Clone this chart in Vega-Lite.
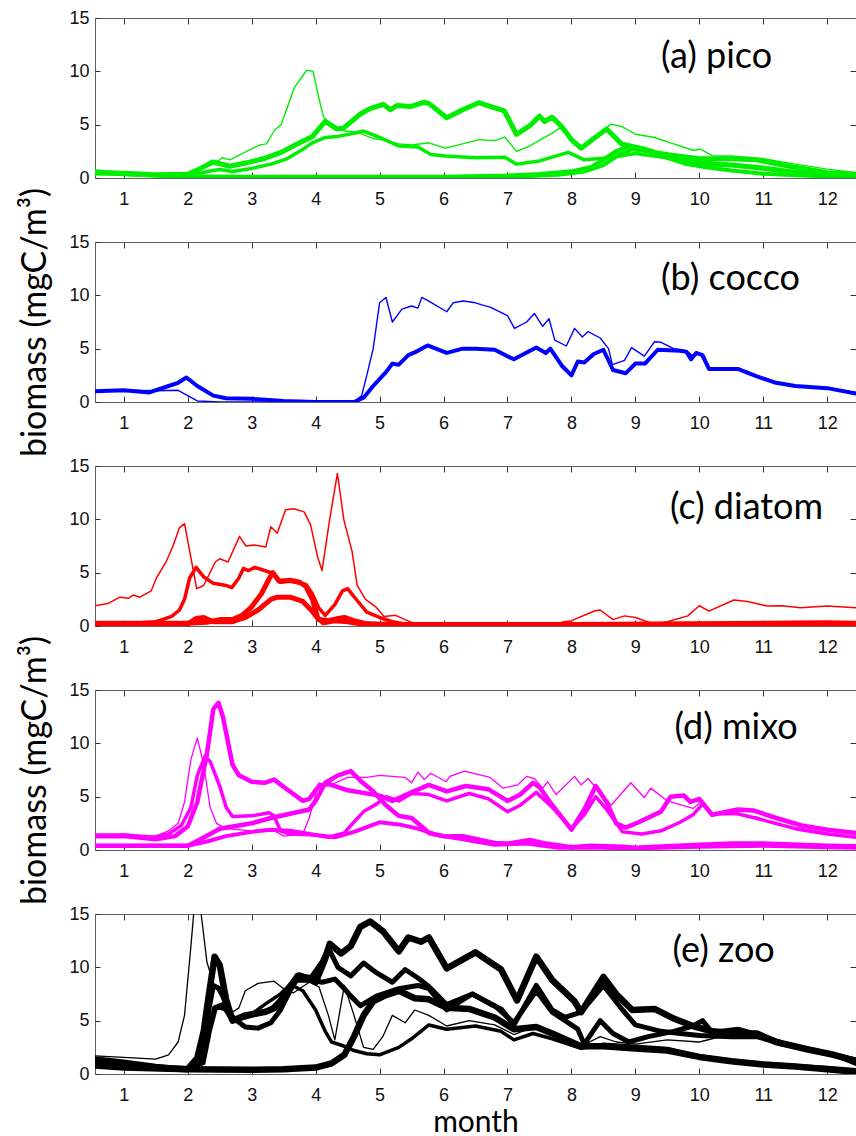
{
"$schema":"https://vega.github.io/schema/vega-lite/v6.json",
"padding":{"left":18,"top":8,"right":0,"bottom":0},
"background":"white",
"config":{"view":{"stroke":"#606060","strokeWidth":1},"axis":{"grid":false,"domain":false,"labelFont":"Liberation Sans","labelFontSize":18,"labelColor":"#111111","tickColor":"#333333","tickWidth":1,"labelFlush":false,"labelOverlap":false,"titleFont":"Lato","titleFontWeight":"normal","titleColor":"#000000"}},
"datasets":{
"pico":[
{"s":"a1","m":0.55,"v":0.3},{"s":"a1","m":1,"v":0.3},{"s":"a1","m":1.5,"v":0.2},{"s":"a1","m":2,"v":0.3},{"s":"a1","m":2.2,"v":0.8},{"s":"a1","m":2.4,"v":1.3},{"s":"a1","m":2.54,"v":1.9},{"s":"a1","m":2.66,"v":1.7},{"s":"a1","m":2.92,"v":2.5},{"s":"a1","m":3.13,"v":3.1},{"s":"a1","m":3.23,"v":3.2},{"s":"a1","m":3.36,"v":4.5},{"s":"a1","m":3.46,"v":5.0},{"s":"a1","m":3.67,"v":8.5},{"s":"a1","m":3.86,"v":10.1},{"s":"a1","m":3.96,"v":10.0},{"s":"a1","m":4.05,"v":7.5},{"s":"a1","m":4.12,"v":5.8},{"s":"a1","m":4.25,"v":4.8},{"s":"a1","m":4.45,"v":4.4},{"s":"a1","m":4.65,"v":4.3},{"s":"a1","m":4.9,"v":3.7},{"s":"a1","m":5.1,"v":3.5},{"s":"a1","m":5.3,"v":3.2},{"s":"a1","m":5.5,"v":3.1},{"s":"a1","m":5.77,"v":3.3},{"s":"a1","m":6.03,"v":2.8},{"s":"a1","m":6.3,"v":3.2},{"s":"a1","m":6.55,"v":3.6},{"s":"a1","m":6.8,"v":3.5},{"s":"a1","m":6.96,"v":3.84},{"s":"a1","m":7.14,"v":2.5},{"s":"a1","m":7.35,"v":3.0},{"s":"a1","m":7.53,"v":3.65},{"s":"a1","m":7.7,"v":4.2},{"s":"a1","m":7.82,"v":4.7},{"s":"a1","m":7.95,"v":4.0},{"s":"a1","m":8.15,"v":2.84},{"s":"a1","m":8.4,"v":4.0},{"s":"a1","m":8.62,"v":5.05},{"s":"a1","m":8.8,"v":4.8},{"s":"a1","m":9.0,"v":4.1},{"s":"a1","m":9.3,"v":3.8},{"s":"a1","m":9.6,"v":3.2},{"s":"a1","m":9.9,"v":2.6},{"s":"a1","m":10.02,"v":2.7},{"s":"a1","m":10.2,"v":2.1},{"s":"a1","m":10.5,"v":2.06},{"s":"a1","m":11,"v":1.8},{"s":"a1","m":11.5,"v":1.3},{"s":"a1","m":12,"v":0.83},{"s":"a1","m":12.45,"v":0.5},
{"s":"a2","m":0.55,"v":0.5},{"s":"a2","m":1,"v":0.45},{"s":"a2","m":1.5,"v":0.3},{"s":"a2","m":2.0,"v":0.35},{"s":"a2","m":2.2,"v":0.9},{"s":"a2","m":2.39,"v":1.5},{"s":"a2","m":2.66,"v":1.1},{"s":"a2","m":2.9,"v":1.4},{"s":"a2","m":3.18,"v":1.8},{"s":"a2","m":3.46,"v":2.4},{"s":"a2","m":3.75,"v":3.3},{"s":"a2","m":3.95,"v":3.9},{"s":"a2","m":4.15,"v":5.3},{"s":"a2","m":4.33,"v":4.6},{"s":"a2","m":4.44,"v":4.7},{"s":"a2","m":4.7,"v":6.0},{"s":"a2","m":4.85,"v":6.5},{"s":"a2","m":5.06,"v":6.9},{"s":"a2","m":5.17,"v":6.4},{"s":"a2","m":5.27,"v":6.8},{"s":"a2","m":5.48,"v":6.7},{"s":"a2","m":5.69,"v":7.1},{"s":"a2","m":5.77,"v":7.0},{"s":"a2","m":6.05,"v":5.65},{"s":"a2","m":6.3,"v":6.4},{"s":"a2","m":6.55,"v":7.06},{"s":"a2","m":6.95,"v":6.3},{"s":"a2","m":7.14,"v":4.1},{"s":"a2","m":7.35,"v":4.9},{"s":"a2","m":7.5,"v":5.8},{"s":"a2","m":7.58,"v":5.3},{"s":"a2","m":7.7,"v":5.7},{"s":"a2","m":7.85,"v":4.8},{"s":"a2","m":8.0,"v":3.6},{"s":"a2","m":8.15,"v":2.8},{"s":"a2","m":8.35,"v":3.7},{"s":"a2","m":8.55,"v":4.6},{"s":"a2","m":8.78,"v":3.2},{"s":"a2","m":9.0,"v":2.9},{"s":"a2","m":9.3,"v":2.4},{"s":"a2","m":9.6,"v":2.1},{"s":"a2","m":10.0,"v":1.8},{"s":"a2","m":10.5,"v":1.8},{"s":"a2","m":10.9,"v":1.7},{"s":"a2","m":11.5,"v":1.0},{"s":"a2","m":12,"v":0.5},{"s":"a2","m":12.45,"v":0.35},
{"s":"a3","m":0.55,"v":0.5},{"s":"a3","m":1,"v":0.4},{"s":"a3","m":1.5,"v":0.25},{"s":"a3","m":2,"v":0.2},{"s":"a3","m":2.3,"v":0.6},{"s":"a3","m":2.5,"v":0.8},{"s":"a3","m":2.7,"v":0.6},{"s":"a3","m":3.0,"v":0.9},{"s":"a3","m":3.3,"v":1.3},{"s":"a3","m":3.55,"v":1.8},{"s":"a3","m":3.75,"v":2.5},{"s":"a3","m":3.95,"v":3.3},{"s":"a3","m":4.15,"v":3.8},{"s":"a3","m":4.35,"v":3.9},{"s":"a3","m":4.6,"v":4.2},{"s":"a3","m":4.75,"v":4.4},{"s":"a3","m":5.0,"v":3.8},{"s":"a3","m":5.3,"v":3.0},{"s":"a3","m":5.6,"v":2.9},{"s":"a3","m":5.8,"v":2.2},{"s":"a3","m":6.03,"v":2.06},{"s":"a3","m":6.5,"v":1.9},{"s":"a3","m":6.96,"v":1.95},{"s":"a3","m":7.14,"v":1.3},{"s":"a3","m":7.5,"v":1.6},{"s":"a3","m":7.95,"v":2.4},{"s":"a3","m":8.2,"v":1.7},{"s":"a3","m":8.6,"v":1.9},{"s":"a3","m":9.0,"v":2.3},{"s":"a3","m":9.5,"v":1.9},{"s":"a3","m":10.0,"v":1.5},{"s":"a3","m":10.5,"v":1.3},{"s":"a3","m":11,"v":1.0},{"s":"a3","m":11.5,"v":0.6},{"s":"a3","m":12,"v":0.35},{"s":"a3","m":12.45,"v":0.3},
{"s":"a4","m":0.55,"v":0.6},{"s":"a4","m":1,"v":0.4},{"s":"a4","m":1.5,"v":0.25},{"s":"a4","m":2,"v":0.15},{"s":"a4","m":3,"v":0.1},{"s":"a4","m":4,"v":0.1},{"s":"a4","m":5,"v":0.1},{"s":"a4","m":6,"v":0.1},{"s":"a4","m":7,"v":0.2},{"s":"a4","m":7.5,"v":0.35},{"s":"a4","m":8.0,"v":0.6},{"s":"a4","m":8.3,"v":1.0},{"s":"a4","m":8.5,"v":1.7},{"s":"a4","m":8.7,"v":2.5},{"s":"a4","m":8.9,"v":3.0},{"s":"a4","m":9.1,"v":2.8},{"s":"a4","m":9.4,"v":2.2},{"s":"a4","m":9.7,"v":1.7},{"s":"a4","m":10.0,"v":1.3},{"s":"a4","m":10.5,"v":1.2},{"s":"a4","m":11.0,"v":0.9},{"s":"a4","m":11.5,"v":0.5},{"s":"a4","m":12,"v":0.3},{"s":"a4","m":12.45,"v":0.25},
{"s":"a5","m":0.55,"v":0.5},{"s":"a5","m":1,"v":0.35},{"s":"a5","m":2,"v":0.1},{"s":"a5","m":4,"v":0.05},{"s":"a5","m":6,"v":0.05},{"s":"a5","m":7,"v":0.1},{"s":"a5","m":7.8,"v":0.3},{"s":"a5","m":8.2,"v":0.6},{"s":"a5","m":8.5,"v":1.2},{"s":"a5","m":8.75,"v":2.2},{"s":"a5","m":8.95,"v":2.7},{"s":"a5","m":9.2,"v":2.5},{"s":"a5","m":9.5,"v":1.9},{"s":"a5","m":9.8,"v":1.3},{"s":"a5","m":10.1,"v":1.0},{"s":"a5","m":10.5,"v":0.7},{"s":"a5","m":11,"v":0.4},{"s":"a5","m":11.5,"v":0.25},{"s":"a5","m":12,"v":0.15},{"s":"a5","m":12.45,"v":0.1}
],
"cocco":[
{"s":"b1","m":0.55,"v":1.0},{"s":"b1","m":1.0,"v":1.1},{"s":"b1","m":1.5,"v":1.05},{"s":"b1","m":1.85,"v":1.1},{"s":"b1","m":2.0,"v":0.6},{"s":"b1","m":2.15,"v":0.1},{"s":"b1","m":2.5,"v":0.0},{"s":"b1","m":4.6,"v":0.0},{"s":"b1","m":4.72,"v":0.6},{"s":"b1","m":4.8,"v":2.5},{"s":"b1","m":4.9,"v":5.0},{"s":"b1","m":5.0,"v":9.3},{"s":"b1","m":5.1,"v":9.8},{"s":"b1","m":5.2,"v":7.5},{"s":"b1","m":5.35,"v":8.7},{"s":"b1","m":5.5,"v":9.0},{"s":"b1","m":5.6,"v":8.8},{"s":"b1","m":5.66,"v":9.8},{"s":"b1","m":5.77,"v":9.45},{"s":"b1","m":6.05,"v":8.46},{"s":"b1","m":6.15,"v":9.3},{"s":"b1","m":6.31,"v":9.47},{"s":"b1","m":6.5,"v":9.3},{"s":"b1","m":6.6,"v":9.1},{"s":"b1","m":6.73,"v":8.9},{"s":"b1","m":7.0,"v":8.1},{"s":"b1","m":7.11,"v":6.9},{"s":"b1","m":7.3,"v":7.5},{"s":"b1","m":7.42,"v":8.3},{"s":"b1","m":7.55,"v":7.1},{"s":"b1","m":7.65,"v":7.8},{"s":"b1","m":7.74,"v":5.8},{"s":"b1","m":7.92,"v":5.25},{"s":"b1","m":8.05,"v":6.9},{"s":"b1","m":8.17,"v":6.1},{"s":"b1","m":8.26,"v":6.6},{"s":"b1","m":8.45,"v":6.0},{"s":"b1","m":8.58,"v":5.0},{"s":"b1","m":8.64,"v":3.5},{"s":"b1","m":8.83,"v":3.9},{"s":"b1","m":8.94,"v":5.1},{"s":"b1","m":9.14,"v":4.3},{"s":"b1","m":9.3,"v":5.65},{"s":"b1","m":9.4,"v":5.6},{"s":"b1","m":9.6,"v":5.0},{"s":"b1","m":9.8,"v":4.8},{"s":"b1","m":9.9,"v":4.3},{"s":"b1","m":10.0,"v":4.6},{"s":"b1","m":10.15,"v":3.1},{"s":"b1","m":10.6,"v":3.1},{"s":"b1","m":10.9,"v":2.4},{"s":"b1","m":11.2,"v":1.8},{"s":"b1","m":11.5,"v":1.5},{"s":"b1","m":12.0,"v":1.3},{"s":"b1","m":12.45,"v":0.9},
{"s":"b2","m":0.55,"v":1.0},{"s":"b2","m":1,"v":1.1},{"s":"b2","m":1.4,"v":0.9},{"s":"b2","m":1.7,"v":1.5},{"s":"b2","m":1.85,"v":1.8},{"s":"b2","m":1.98,"v":2.3},{"s":"b2","m":2.15,"v":1.5},{"s":"b2","m":2.4,"v":0.6},{"s":"b2","m":2.6,"v":0.35},{"s":"b2","m":3,"v":0.3},{"s":"b2","m":3.5,"v":0.1},{"s":"b2","m":4,"v":0.0},{"s":"b2","m":4.6,"v":0.0},{"s":"b2","m":4.75,"v":0.4},{"s":"b2","m":4.9,"v":1.5},{"s":"b2","m":5.1,"v":2.8},{"s":"b2","m":5.2,"v":3.6},{"s":"b2","m":5.3,"v":3.5},{"s":"b2","m":5.45,"v":4.4},{"s":"b2","m":5.6,"v":4.8},{"s":"b2","m":5.75,"v":5.3},{"s":"b2","m":6.05,"v":4.6},{"s":"b2","m":6.3,"v":5.0},{"s":"b2","m":6.5,"v":5.0},{"s":"b2","m":6.8,"v":4.9},{"s":"b2","m":7.1,"v":4.0},{"s":"b2","m":7.45,"v":5.1},{"s":"b2","m":7.6,"v":4.6},{"s":"b2","m":7.67,"v":5.0},{"s":"b2","m":7.85,"v":3.4},{"s":"b2","m":8.0,"v":2.5},{"s":"b2","m":8.1,"v":3.8},{"s":"b2","m":8.2,"v":3.7},{"s":"b2","m":8.35,"v":4.5},{"s":"b2","m":8.5,"v":4.9},{"s":"b2","m":8.65,"v":3.0},{"s":"b2","m":8.85,"v":2.7},{"s":"b2","m":9.0,"v":3.6},{"s":"b2","m":9.15,"v":3.6},{"s":"b2","m":9.35,"v":4.9},{"s":"b2","m":9.7,"v":4.8},{"s":"b2","m":9.8,"v":4.7},{"s":"b2","m":9.87,"v":4.0},{"s":"b2","m":9.95,"v":4.6},{"s":"b2","m":10.05,"v":4.4},{"s":"b2","m":10.15,"v":3.1},{"s":"b2","m":10.6,"v":3.1},{"s":"b2","m":10.9,"v":2.4},{"s":"b2","m":11.2,"v":1.8},{"s":"b2","m":11.5,"v":1.5},{"s":"b2","m":12,"v":1.3},{"s":"b2","m":12.45,"v":0.8}
],
"diatom":[
{"s":"c1","m":0.55,"v":1.9},{"s":"c1","m":0.75,"v":2.1},{"s":"c1","m":0.94,"v":2.7},{"s":"c1","m":1.07,"v":2.6},{"s":"c1","m":1.15,"v":2.9},{"s":"c1","m":1.25,"v":2.7},{"s":"c1","m":1.43,"v":3.3},{"s":"c1","m":1.51,"v":4.5},{"s":"c1","m":1.61,"v":5.5},{"s":"c1","m":1.66,"v":6.0},{"s":"c1","m":1.77,"v":7.5},{"s":"c1","m":1.87,"v":9.2},{"s":"c1","m":1.95,"v":9.6},{"s":"c1","m":2.14,"v":3.5},{"s":"c1","m":2.25,"v":3.8},{"s":"c1","m":2.43,"v":6.0},{"s":"c1","m":2.5,"v":6.3},{"s":"c1","m":2.63,"v":6.0},{"s":"c1","m":2.81,"v":8.4},{"s":"c1","m":2.91,"v":7.5},{"s":"c1","m":3.04,"v":7.6},{"s":"c1","m":3.22,"v":7.4},{"s":"c1","m":3.3,"v":9.3},{"s":"c1","m":3.4,"v":8.7},{"s":"c1","m":3.53,"v":10.9},{"s":"c1","m":3.66,"v":11.0},{"s":"c1","m":3.82,"v":10.7},{"s":"c1","m":3.92,"v":9.5},{"s":"c1","m":4.03,"v":6.5},{"s":"c1","m":4.1,"v":5.2},{"s":"c1","m":4.22,"v":10},{"s":"c1","m":4.34,"v":14.3},{"s":"c1","m":4.44,"v":10},{"s":"c1","m":4.57,"v":7},{"s":"c1","m":4.65,"v":3.8},{"s":"c1","m":4.78,"v":2.5},{"s":"c1","m":4.94,"v":1.8},{"s":"c1","m":5.07,"v":0.9},{"s":"c1","m":5.25,"v":1.0},{"s":"c1","m":5.4,"v":0.6},{"s":"c1","m":5.56,"v":0.2},{"s":"c1","m":6.0,"v":0.1},{"s":"c1","m":7.0,"v":0.1},{"s":"c1","m":7.3,"v":0.3},{"s":"c1","m":7.8,"v":0.3},{"s":"c1","m":8.0,"v":0.5},{"s":"c1","m":8.36,"v":1.4},{"s":"c1","m":8.45,"v":1.5},{"s":"c1","m":8.65,"v":0.6},{"s":"c1","m":8.83,"v":0.95},{"s":"c1","m":9.0,"v":0.8},{"s":"c1","m":9.3,"v":0.16},{"s":"c1","m":9.5,"v":0.4},{"s":"c1","m":9.82,"v":0.95},{"s":"c1","m":10.0,"v":1.9},{"s":"c1","m":10.15,"v":1.4},{"s":"c1","m":10.54,"v":2.44},{"s":"c1","m":10.75,"v":2.3},{"s":"c1","m":11.06,"v":1.87},{"s":"c1","m":11.3,"v":1.9},{"s":"c1","m":11.58,"v":1.7},{"s":"c1","m":12.0,"v":1.87},{"s":"c1","m":12.45,"v":1.7},
{"s":"c2","m":0.55,"v":0.2},{"s":"c2","m":1.0,"v":0.2},{"s":"c2","m":1.5,"v":0.4},{"s":"c2","m":1.6,"v":0.6},{"s":"c2","m":1.75,"v":0.9},{"s":"c2","m":1.87,"v":1.5},{"s":"c2","m":1.95,"v":2.5},{"s":"c2","m":2.03,"v":4.5},{"s":"c2","m":2.13,"v":5.5},{"s":"c2","m":2.25,"v":4.6},{"s":"c2","m":2.4,"v":4.0},{"s":"c2","m":2.6,"v":3.8},{"s":"c2","m":2.69,"v":3.6},{"s":"c2","m":2.8,"v":4.5},{"s":"c2","m":2.87,"v":5.4},{"s":"c2","m":2.95,"v":5.2},{"s":"c2","m":3.05,"v":5.5},{"s":"c2","m":3.2,"v":5.2},{"s":"c2","m":3.35,"v":4.9},{"s":"c2","m":3.45,"v":4.1},{"s":"c2","m":3.6,"v":4.2},{"s":"c2","m":3.85,"v":3.9},{"s":"c2","m":3.95,"v":3.0},{"s":"c2","m":4.05,"v":1.7},{"s":"c2","m":4.15,"v":1.0},{"s":"c2","m":4.3,"v":2.0},{"s":"c2","m":4.42,"v":3.3},{"s":"c2","m":4.5,"v":3.5},{"s":"c2","m":4.62,"v":2.6},{"s":"c2","m":4.8,"v":1.3},{"s":"c2","m":5.0,"v":0.8},{"s":"c2","m":5.2,"v":0.4},{"s":"c2","m":5.4,"v":0.2},{"s":"c2","m":6.0,"v":0.1},{"s":"c2","m":12.45,"v":0.1},
{"s":"c3","m":0.55,"v":0.25},{"s":"c3","m":1.5,"v":0.25},{"s":"c3","m":2.0,"v":0.25},{"s":"c3","m":2.3,"v":0.35},{"s":"c3","m":2.5,"v":0.6},{"s":"c3","m":2.7,"v":0.6},{"s":"c3","m":2.85,"v":1.0},{"s":"c3","m":3.0,"v":1.8},{"s":"c3","m":3.15,"v":3.0},{"s":"c3","m":3.28,"v":4.5},{"s":"c3","m":3.33,"v":5.0},{"s":"c3","m":3.43,"v":4.2},{"s":"c3","m":3.6,"v":4.3},{"s":"c3","m":3.75,"v":4.1},{"s":"c3","m":3.85,"v":3.7},{"s":"c3","m":3.95,"v":2.5},{"s":"c3","m":4.03,"v":0.8},{"s":"c3","m":4.12,"v":0.3},{"s":"c3","m":4.3,"v":0.5},{"s":"c3","m":4.5,"v":0.4},{"s":"c3","m":4.7,"v":0.2},{"s":"c3","m":5.0,"v":0.15},{"s":"c3","m":7.0,"v":0.15},{"s":"c3","m":9.0,"v":0.15},{"s":"c3","m":12.45,"v":0.2},
{"s":"c4","m":0.55,"v":0.2},{"s":"c4","m":2.0,"v":0.2},{"s":"c4","m":2.13,"v":0.7},{"s":"c4","m":2.25,"v":0.8},{"s":"c4","m":2.4,"v":0.4},{"s":"c4","m":2.7,"v":0.4},{"s":"c4","m":2.9,"v":0.8},{"s":"c4","m":3.1,"v":1.5},{"s":"c4","m":3.3,"v":2.5},{"s":"c4","m":3.4,"v":2.7},{"s":"c4","m":3.6,"v":2.7},{"s":"c4","m":3.8,"v":2.3},{"s":"c4","m":3.93,"v":1.5},{"s":"c4","m":4.05,"v":0.6},{"s":"c4","m":4.2,"v":0.5},{"s":"c4","m":4.35,"v":0.7},{"s":"c4","m":4.45,"v":0.8},{"s":"c4","m":4.6,"v":0.5},{"s":"c4","m":4.8,"v":0.2},{"s":"c4","m":5.2,"v":0.15},{"s":"c4","m":8.0,"v":0.15},{"s":"c4","m":10,"v":0.2},{"s":"c4","m":12.0,"v":0.3},{"s":"c4","m":12.45,"v":0.25}
],
"mixo":[
{"s":"d1","m":0.55,"v":1.3},{"s":"d1","m":1.0,"v":1.5},{"s":"d1","m":1.5,"v":1.3},{"s":"d1","m":1.7,"v":1.8},{"s":"d1","m":1.85,"v":2.5},{"s":"d1","m":1.95,"v":4.5},{"s":"d1","m":2.05,"v":8.5},{"s":"d1","m":2.15,"v":10.5},{"s":"d1","m":2.25,"v":8},{"s":"d1","m":2.35,"v":4},{"s":"d1","m":2.45,"v":2.5},{"s":"d1","m":2.6,"v":2.0},{"s":"d1","m":3.0,"v":1.8},{"s":"d1","m":3.3,"v":2.0},{"s":"d1","m":3.5,"v":1.3},{"s":"d1","m":3.8,"v":1.5},{"s":"d1","m":3.9,"v":3},{"s":"d1","m":4.05,"v":6.3},{"s":"d1","m":4.2,"v":6.0},{"s":"d1","m":4.5,"v":6.8},{"s":"d1","m":4.8,"v":6.8},{"s":"d1","m":5.0,"v":7.0},{"s":"d1","m":5.4,"v":6.8},{"s":"d1","m":5.5,"v":6.3},{"s":"d1","m":5.6,"v":7.3},{"s":"d1","m":5.7,"v":6.6},{"s":"d1","m":5.8,"v":7.2},{"s":"d1","m":6.04,"v":6.4},{"s":"d1","m":6.1,"v":6.9},{"s":"d1","m":6.33,"v":7.4},{"s":"d1","m":6.73,"v":6.8},{"s":"d1","m":6.93,"v":5.8},{"s":"d1","m":7.16,"v":6.1},{"s":"d1","m":7.3,"v":6.9},{"s":"d1","m":7.42,"v":6.7},{"s":"d1","m":7.55,"v":5.8},{"s":"d1","m":7.63,"v":6.4},{"s":"d1","m":7.76,"v":5.2},{"s":"d1","m":8.05,"v":6.9},{"s":"d1","m":8.15,"v":6.1},{"s":"d1","m":8.26,"v":6.7},{"s":"d1","m":8.62,"v":4.2},{"s":"d1","m":8.93,"v":6.3},{"s":"d1","m":9.14,"v":4.9},{"s":"d1","m":9.24,"v":5.8},{"s":"d1","m":9.5,"v":4.6},{"s":"d1","m":9.7,"v":4.25},{"s":"d1","m":9.9,"v":3.9},{"s":"d1","m":10.05,"v":4.6},{"s":"d1","m":10.2,"v":3.3},{"s":"d1","m":10.5,"v":3.4},{"s":"d1","m":10.9,"v":3.1},{"s":"d1","m":11.2,"v":2.4},{"s":"d1","m":11.6,"v":2.0},{"s":"d1","m":12,"v":1.6},{"s":"d1","m":12.45,"v":1.2},
{"s":"d2","m":0.55,"v":1.3},{"s":"d2","m":1.0,"v":1.3},{"s":"d2","m":1.5,"v":1.0},{"s":"d2","m":1.8,"v":1.3},{"s":"d2","m":2.0,"v":2.2},{"s":"d2","m":2.15,"v":4.5},{"s":"d2","m":2.3,"v":9},{"s":"d2","m":2.4,"v":13.2},{"s":"d2","m":2.48,"v":13.8},{"s":"d2","m":2.55,"v":12.5},{"s":"d2","m":2.7,"v":8},{"s":"d2","m":2.8,"v":7.0},{"s":"d2","m":3.0,"v":6.4},{"s":"d2","m":3.2,"v":6.3},{"s":"d2","m":3.35,"v":6.6},{"s":"d2","m":3.55,"v":5.7},{"s":"d2","m":3.8,"v":4.6},{"s":"d2","m":3.9,"v":4.8},{"s":"d2","m":4.05,"v":6.0},{"s":"d2","m":4.2,"v":6.2},{"s":"d2","m":4.5,"v":5.6},{"s":"d2","m":5.0,"v":5.1},{"s":"d2","m":5.2,"v":4.6},{"s":"d2","m":5.5,"v":5.4},{"s":"d2","m":5.77,"v":6.1},{"s":"d2","m":6.05,"v":5.5},{"s":"d2","m":6.35,"v":6.0},{"s":"d2","m":6.7,"v":5.7},{"s":"d2","m":7.0,"v":4.6},{"s":"d2","m":7.2,"v":5.2},{"s":"d2","m":7.4,"v":6.3},{"s":"d2","m":7.5,"v":5.9},{"s":"d2","m":7.7,"v":4.2},{"s":"d2","m":8.0,"v":1.9},{"s":"d2","m":8.2,"v":3.8},{"s":"d2","m":8.38,"v":6.0},{"s":"d2","m":8.55,"v":4.5},{"s":"d2","m":8.7,"v":2.5},{"s":"d2","m":8.85,"v":2.1},{"s":"d2","m":9.05,"v":2.6},{"s":"d2","m":9.4,"v":3.6},{"s":"d2","m":9.55,"v":5.0},{"s":"d2","m":9.76,"v":5.1},{"s":"d2","m":9.86,"v":4.5},{"s":"d2","m":10.0,"v":4.8},{"s":"d2","m":10.2,"v":3.3},{"s":"d2","m":10.6,"v":3.8},{"s":"d2","m":10.85,"v":3.7},{"s":"d2","m":11.2,"v":3.0},{"s":"d2","m":11.6,"v":2.3},{"s":"d2","m":12.0,"v":1.9},{"s":"d2","m":12.45,"v":1.6},
{"s":"d3","m":0.55,"v":1.4},{"s":"d3","m":1.0,"v":1.4},{"s":"d3","m":1.4,"v":1.1},{"s":"d3","m":1.7,"v":1.5},{"s":"d3","m":1.9,"v":2.3},{"s":"d3","m":2.05,"v":4},{"s":"d3","m":2.15,"v":7},{"s":"d3","m":2.27,"v":8.8},{"s":"d3","m":2.35,"v":8.3},{"s":"d3","m":2.5,"v":6},{"s":"d3","m":2.6,"v":4},{"s":"d3","m":2.7,"v":3.15},{"s":"d3","m":3.0,"v":3.2},{"s":"d3","m":3.27,"v":3.5},{"s":"d3","m":3.35,"v":3.2},{"s":"d3","m":3.45,"v":1.8},{"s":"d3","m":3.6,"v":1.5},{"s":"d3","m":4.0,"v":1.4},{"s":"d3","m":4.2,"v":1.2},{"s":"d3","m":4.45,"v":1.6},{"s":"d3","m":4.55,"v":2.3},{"s":"d3","m":4.75,"v":3.6},{"s":"d3","m":4.95,"v":4.3},{"s":"d3","m":5.1,"v":5.0},{"s":"d3","m":5.3,"v":4.6},{"s":"d3","m":5.5,"v":5.3},{"s":"d3","m":5.77,"v":5.2},{"s":"d3","m":6.05,"v":4.6},{"s":"d3","m":6.4,"v":5.3},{"s":"d3","m":6.7,"v":4.8},{"s":"d3","m":7.0,"v":3.6},{"s":"d3","m":7.2,"v":4.2},{"s":"d3","m":7.45,"v":5.4},{"s":"d3","m":7.7,"v":4.0},{"s":"d3","m":8.0,"v":2.0},{"s":"d3","m":8.2,"v":3.3},{"s":"d3","m":8.38,"v":5.0},{"s":"d3","m":8.55,"v":3.8},{"s":"d3","m":8.8,"v":1.7},{"s":"d3","m":9.1,"v":1.5},{"s":"d3","m":9.4,"v":1.8},{"s":"d3","m":9.7,"v":2.6},{"s":"d3","m":9.9,"v":3.3},{"s":"d3","m":10.05,"v":4.3},{"s":"d3","m":10.2,"v":3.4},{"s":"d3","m":10.6,"v":3.4},{"s":"d3","m":11.0,"v":2.8},{"s":"d3","m":11.5,"v":2.0},{"s":"d3","m":12,"v":1.5},{"s":"d3","m":12.45,"v":1.2},
{"s":"d4","m":0.55,"v":0.4},{"s":"d4","m":1,"v":0.4},{"s":"d4","m":1.5,"v":0.4},{"s":"d4","m":2.0,"v":0.4},{"s":"d4","m":2.2,"v":1.0},{"s":"d4","m":2.5,"v":2.0},{"s":"d4","m":2.8,"v":2.3},{"s":"d4","m":3.0,"v":2.5},{"s":"d4","m":3.3,"v":3.0},{"s":"d4","m":3.6,"v":3.4},{"s":"d4","m":3.9,"v":3.8},{"s":"d4","m":4.0,"v":4.6},{"s":"d4","m":4.15,"v":6.3},{"s":"d4","m":4.35,"v":7.0},{"s":"d4","m":4.55,"v":7.4},{"s":"d4","m":4.7,"v":6.5},{"s":"d4","m":4.9,"v":5.5},{"s":"d4","m":5.1,"v":4.2},{"s":"d4","m":5.3,"v":3.2},{"s":"d4","m":5.5,"v":3.0},{"s":"d4","m":5.7,"v":2.0},{"s":"d4","m":5.77,"v":1.6},{"s":"d4","m":6.0,"v":1.3},{"s":"d4","m":6.3,"v":1.3},{"s":"d4","m":6.8,"v":0.65},{"s":"d4","m":7.0,"v":0.6},{"s":"d4","m":7.35,"v":0.95},{"s":"d4","m":7.6,"v":0.6},{"s":"d4","m":8.0,"v":0.25},{"s":"d4","m":8.3,"v":0.4},{"s":"d4","m":8.8,"v":0.3},{"s":"d4","m":9.0,"v":0.2},{"s":"d4","m":9.5,"v":0.35},{"s":"d4","m":10.0,"v":0.5},{"s":"d4","m":10.5,"v":0.6},{"s":"d4","m":11,"v":0.6},{"s":"d4","m":12,"v":0.4},{"s":"d4","m":12.45,"v":0.35},
{"s":"d5","m":0.55,"v":0.4},{"s":"d5","m":1.5,"v":0.4},{"s":"d5","m":2.0,"v":0.4},{"s":"d5","m":2.3,"v":0.8},{"s":"d5","m":2.6,"v":1.3},{"s":"d5","m":3.0,"v":1.7},{"s":"d5","m":3.3,"v":1.9},{"s":"d5","m":3.6,"v":1.8},{"s":"d5","m":4.0,"v":1.4},{"s":"d5","m":4.3,"v":1.2},{"s":"d5","m":4.6,"v":1.7},{"s":"d5","m":5.0,"v":2.6},{"s":"d5","m":5.3,"v":2.4},{"s":"d5","m":5.6,"v":2.0},{"s":"d5","m":5.9,"v":1.4},{"s":"d5","m":6.3,"v":1.0},{"s":"d5","m":6.8,"v":0.5},{"s":"d5","m":7.3,"v":0.6},{"s":"d5","m":7.8,"v":0.2},{"s":"d5","m":8.5,"v":0.2},{"s":"d5","m":9,"v":0.15},{"s":"d5","m":10,"v":0.3},{"s":"d5","m":11,"v":0.4},{"s":"d5","m":12,"v":0.25},{"s":"d5","m":12.45,"v":0.2}
],
"zoo":[
{"s":"e1","m":0.55,"v":1.7},{"s":"e1","m":1.0,"v":1.55},{"s":"e1","m":1.5,"v":1.4},{"s":"e1","m":1.7,"v":1.8},{"s":"e1","m":1.85,"v":3},{"s":"e1","m":1.95,"v":5.5},{"s":"e1","m":2.05,"v":12},{"s":"e1","m":2.1,"v":15.5},{"s":"e1","m":2.2,"v":15.5},{"s":"e1","m":2.3,"v":10.5},{"s":"e1","m":2.4,"v":8.5},{"s":"e1","m":2.55,"v":7},{"s":"e1","m":2.65,"v":5.6},{"s":"e1","m":2.8,"v":6.2},{"s":"e1","m":2.9,"v":7.8},{"s":"e1","m":3.1,"v":8.5},{"s":"e1","m":3.35,"v":8.7},{"s":"e1","m":3.5,"v":8.0},{"s":"e1","m":3.65,"v":7.6},{"s":"e1","m":3.9,"v":8.6},{"s":"e1","m":4.05,"v":8.2},{"s":"e1","m":4.2,"v":5.5},{"s":"e1","m":4.3,"v":3.2},{"s":"e1","m":4.45,"v":8.3},{"s":"e1","m":4.6,"v":5.5},{"s":"e1","m":4.75,"v":2.5},{"s":"e1","m":4.9,"v":2.3},{"s":"e1","m":5.05,"v":3.5},{"s":"e1","m":5.2,"v":5.5},{"s":"e1","m":5.4,"v":4.8},{"s":"e1","m":5.55,"v":6.0},{"s":"e1","m":5.77,"v":5.5},{"s":"e1","m":6.05,"v":4.5},{"s":"e1","m":6.4,"v":5.0},{"s":"e1","m":6.8,"v":4.6},{"s":"e1","m":7.1,"v":3.7},{"s":"e1","m":7.45,"v":4.5},{"s":"e1","m":7.7,"v":3.8},{"s":"e1","m":8.15,"v":2.6},{"s":"e1","m":8.45,"v":3.5},{"s":"e1","m":8.7,"v":3.0},{"s":"e1","m":9.0,"v":2.8},{"s":"e1","m":9.5,"v":3.2},{"s":"e1","m":10.0,"v":3.0},{"s":"e1","m":10.6,"v":3.9},{"s":"e1","m":11,"v":3.4},{"s":"e1","m":11.5,"v":2.5},{"s":"e1","m":12,"v":1.9},{"s":"e1","m":12.45,"v":1.5},
{"s":"e2","m":0.55,"v":1.2},{"s":"e2","m":1.0,"v":0.9},{"s":"e2","m":1.5,"v":0.6},{"s":"e2","m":2.0,"v":0.45},{"s":"e2","m":2.15,"v":1.5},{"s":"e2","m":2.25,"v":4},{"s":"e2","m":2.32,"v":7},{"s":"e2","m":2.42,"v":11},{"s":"e2","m":2.5,"v":10.2},{"s":"e2","m":2.6,"v":7},{"s":"e2","m":2.7,"v":5.0},{"s":"e2","m":2.9,"v":5.5},{"s":"e2","m":3.2,"v":5.8},{"s":"e2","m":3.4,"v":6.3},{"s":"e2","m":3.6,"v":8.2},{"s":"e2","m":3.72,"v":9.2},{"s":"e2","m":3.9,"v":9.0},{"s":"e2","m":4.0,"v":8.6},{"s":"e2","m":4.15,"v":10.8},{"s":"e2","m":4.22,"v":12.2},{"s":"e2","m":4.4,"v":11.3},{"s":"e2","m":4.55,"v":12},{"s":"e2","m":4.7,"v":13.8},{"s":"e2","m":4.85,"v":14.3},{"s":"e2","m":5.05,"v":13.4},{"s":"e2","m":5.3,"v":11.5},{"s":"e2","m":5.45,"v":12.8},{"s":"e2","m":5.65,"v":12.4},{"s":"e2","m":5.77,"v":12.8},{"s":"e2","m":6.05,"v":9.9},{"s":"e2","m":6.5,"v":11.4},{"s":"e2","m":6.9,"v":9.8},{"s":"e2","m":7.15,"v":6.9},{"s":"e2","m":7.45,"v":11.0},{"s":"e2","m":7.7,"v":8.8},{"s":"e2","m":8.05,"v":6.8},{"s":"e2","m":8.15,"v":5.8},{"s":"e2","m":8.5,"v":9.1},{"s":"e2","m":8.7,"v":7.5},{"s":"e2","m":8.95,"v":6.0},{"s":"e2","m":9.3,"v":6.1},{"s":"e2","m":9.6,"v":5.2},{"s":"e2","m":9.9,"v":4.5},{"s":"e2","m":10.2,"v":4.0},{"s":"e2","m":10.6,"v":3.8},{"s":"e2","m":10.9,"v":3.8},{"s":"e2","m":11.2,"v":3.0},{"s":"e2","m":11.7,"v":2.3},{"s":"e2","m":12.1,"v":1.8},{"s":"e2","m":12.45,"v":1.2},
{"s":"e3","m":0.55,"v":1.3},{"s":"e3","m":1,"v":0.8},{"s":"e3","m":1.5,"v":0.55},{"s":"e3","m":2.0,"v":0.5},{"s":"e3","m":2.15,"v":1.5},{"s":"e3","m":2.3,"v":5},{"s":"e3","m":2.4,"v":8.3},{"s":"e3","m":2.5,"v":8.0},{"s":"e3","m":2.6,"v":6.5},{"s":"e3","m":2.7,"v":5.3},{"s":"e3","m":2.9,"v":4.4},{"s":"e3","m":3.1,"v":4.3},{"s":"e3","m":3.3,"v":4.8},{"s":"e3","m":3.45,"v":6.0},{"s":"e3","m":3.6,"v":7.8},{"s":"e3","m":3.75,"v":9.3},{"s":"e3","m":3.95,"v":8.8},{"s":"e3","m":4.1,"v":8.6},{"s":"e3","m":4.3,"v":8.9},{"s":"e3","m":4.45,"v":8.0},{"s":"e3","m":4.55,"v":7.3},{"s":"e3","m":4.7,"v":6.4},{"s":"e3","m":4.95,"v":7.3},{"s":"e3","m":5.3,"v":8.0},{"s":"e3","m":5.6,"v":8.3},{"s":"e3","m":5.77,"v":8.0},{"s":"e3","m":6.05,"v":6.0},{"s":"e3","m":6.45,"v":7.5},{"s":"e3","m":6.75,"v":6.5},{"s":"e3","m":6.9,"v":6.1},{"s":"e3","m":7.1,"v":4.6},{"s":"e3","m":7.45,"v":8.3},{"s":"e3","m":7.7,"v":6.0},{"s":"e3","m":7.9,"v":5.3},{"s":"e3","m":8.15,"v":5.8},{"s":"e3","m":8.5,"v":8.3},{"s":"e3","m":8.8,"v":6.0},{"s":"e3","m":9.0,"v":4.6},{"s":"e3","m":9.4,"v":4.0},{"s":"e3","m":9.7,"v":3.8},{"s":"e3","m":10,"v":3.6},{"s":"e3","m":10.5,"v":3.5},{"s":"e3","m":10.9,"v":3.5},{"s":"e3","m":11.3,"v":2.8},{"s":"e3","m":11.8,"v":2.2},{"s":"e3","m":12.2,"v":1.7},{"s":"e3","m":12.45,"v":1.3},
{"s":"e4","m":0.55,"v":0.8},{"s":"e4","m":1,"v":0.6},{"s":"e4","m":2,"v":0.45},{"s":"e4","m":3,"v":0.4},{"s":"e4","m":3.5,"v":0.45},{"s":"e4","m":4.0,"v":0.6},{"s":"e4","m":4.25,"v":1.0},{"s":"e4","m":4.45,"v":1.8},{"s":"e4","m":4.6,"v":3.5},{"s":"e4","m":4.75,"v":5.5},{"s":"e4","m":4.9,"v":6.8},{"s":"e4","m":5.1,"v":7.4},{"s":"e4","m":5.3,"v":7.8},{"s":"e4","m":5.55,"v":7.1},{"s":"e4","m":5.77,"v":7.0},{"s":"e4","m":6.05,"v":6.2},{"s":"e4","m":6.4,"v":6.1},{"s":"e4","m":6.8,"v":5.3},{"s":"e4","m":7.1,"v":4.2},{"s":"e4","m":7.45,"v":4.4},{"s":"e4","m":7.7,"v":3.8},{"s":"e4","m":8.15,"v":2.6},{"s":"e4","m":8.5,"v":2.6},{"s":"e4","m":9.0,"v":2.4},{"s":"e4","m":9.5,"v":2.2},{"s":"e4","m":10.0,"v":1.6},{"s":"e4","m":10.5,"v":1.2},{"s":"e4","m":11.0,"v":0.9},{"s":"e4","m":11.5,"v":0.7},{"s":"e4","m":12.0,"v":0.45},{"s":"e4","m":12.45,"v":0.2},
{"s":"e5","m":0.55,"v":1.0},{"s":"e5","m":1,"v":0.7},{"s":"e5","m":2,"v":0.45},{"s":"e5","m":2.2,"v":1.0},{"s":"e5","m":2.3,"v":3.5},{"s":"e5","m":2.42,"v":6.2},{"s":"e5","m":2.55,"v":6.5},{"s":"e5","m":2.7,"v":5.0},{"s":"e5","m":3.0,"v":5.5},{"s":"e5","m":3.3,"v":6.0},{"s":"e5","m":3.55,"v":7.6},{"s":"e5","m":3.7,"v":8.8},{"s":"e5","m":3.9,"v":8.8},{"s":"e5","m":4.1,"v":10.5},{"s":"e5","m":4.2,"v":11.8},{"s":"e5","m":4.35,"v":10},{"s":"e5","m":4.55,"v":9.2},{"s":"e5","m":4.75,"v":10.4},{"s":"e5","m":4.95,"v":9.5},{"s":"e5","m":5.2,"v":8.6},{"s":"e5","m":5.4,"v":9.8},{"s":"e5","m":5.6,"v":9.0},{"s":"e5","m":5.77,"v":8.2},{"s":"e5","m":6.05,"v":6.5},{"s":"e5","m":6.45,"v":7.5},{"s":"e5","m":6.8,"v":6.4},{"s":"e5","m":7.1,"v":4.8},{"s":"e5","m":7.45,"v":7.8},{"s":"e5","m":7.7,"v":5.8},{"s":"e5","m":8.1,"v":4.2},{"s":"e5","m":8.2,"v":2.8},{"s":"e5","m":8.45,"v":5.0},{"s":"e5","m":8.65,"v":3.8},{"s":"e5","m":8.9,"v":3.0},{"s":"e5","m":9.2,"v":3.5},{"s":"e5","m":9.6,"v":4.0},{"s":"e5","m":9.9,"v":4.5},{"s":"e5","m":10.05,"v":5.0},{"s":"e5","m":10.2,"v":3.9},{"s":"e5","m":10.6,"v":4.2},{"s":"e5","m":10.9,"v":3.7},{"s":"e5","m":11.3,"v":2.9},{"s":"e5","m":11.8,"v":2.2},{"s":"e5","m":12.2,"v":1.6},{"s":"e5","m":12.45,"v":1.0},
{"s":"e6","m":0.55,"v":1.5},{"s":"e6","m":1,"v":1.2},{"s":"e6","m":1.5,"v":0.8},{"s":"e6","m":2,"v":0.5},{"s":"e6","m":2.25,"v":1.0},{"s":"e6","m":2.35,"v":4},{"s":"e6","m":2.45,"v":6.3},{"s":"e6","m":2.6,"v":6.0},{"s":"e6","m":2.75,"v":5.2},{"s":"e6","m":3.0,"v":5.6},{"s":"e6","m":3.2,"v":6.5},{"s":"e6","m":3.45,"v":7.5},{"s":"e6","m":3.6,"v":8.4},{"s":"e6","m":3.8,"v":7.8},{"s":"e6","m":4.0,"v":6.0},{"s":"e6","m":4.15,"v":4.0},{"s":"e6","m":4.25,"v":3.0},{"s":"e6","m":4.45,"v":2.6},{"s":"e6","m":4.6,"v":2.2},{"s":"e6","m":4.8,"v":1.9},{"s":"e6","m":5.0,"v":1.8},{"s":"e6","m":5.3,"v":2.5},{"s":"e6","m":5.5,"v":3.3},{"s":"e6","m":5.77,"v":4.6},{"s":"e6","m":6.05,"v":4.2},{"s":"e6","m":6.5,"v":4.5},{"s":"e6","m":6.9,"v":4.0},{"s":"e6","m":7.1,"v":3.2},{"s":"e6","m":7.4,"v":3.8},{"s":"e6","m":7.7,"v":3.3},{"s":"e6","m":8.15,"v":2.4},{"s":"e6","m":8.5,"v":2.8},{"s":"e6","m":9.0,"v":2.6},{"s":"e6","m":9.5,"v":2.4},{"s":"e6","m":10.0,"v":1.7},{"s":"e6","m":10.5,"v":1.3},{"s":"e6","m":11.0,"v":1.0},{"s":"e6","m":11.5,"v":0.8},{"s":"e6","m":12.0,"v":0.6},{"s":"e6","m":12.45,"v":0.4}
]
},
"spacing":64,
"bounds":"flush",
"resolve":{"scale":{"strokeWidth":"independent"}},
"vconcat":[
{"width":761,"height":160,
 "layer":[
  {"data":{"name":"pico"},"mark":{"type":"line","stroke":"#00ee00","clip":true,"strokeJoin":"round","strokeCap":"round"},
   "encoding":{
    "x":{"field":"m","type":"quantitative","scale":{"domain":[0.55,12.45],"nice":false,"zero":false},"axis":{"orient":"bottom","values":[1,2,3,4,5,6,7,8,9,10,11,12],"tickSize":-6,"labelPadding":18,"title":null}},
    "y":{"field":"v","type":"quantitative","scale":{"domain":[0,15],"nice":false},"axis":{"orient":"left","values":[0,5,10,15],"tickSize":-5,"labelPadding":11,"title":null}},
    "detail":{"field":"s","type":"nominal"},
    "strokeWidth":{"field":"s","type":"nominal","scale":{"type":"ordinal","domain":["a1","a2","a3","a4","a5"],"range":[1.4,5,3.5,4.5,4]},"legend":null}}},
  {"data":{"values":[{"m":9.4,"v":10.3,"t":"(a) pico"}]},"mark":{"type":"text","align":"left","baseline":"alphabetic","font":"Lato","fontSize":36,"color":"#000000"},
   "encoding":{
    "x":{"field":"m","type":"quantitative","axis":{"orient":"top","values":[1,2,3,4,5,6,7,8,9,10,11,12],"labels":false,"tickSize":-6,"title":null}},
    "y":{"field":"v","type":"quantitative","axis":{"orient":"right","values":[5,10],"labels":false,"tickSize":-6,"title":null}},
    "text":{"field":"t"}}}
 ],
 "resolve":{"axis":{"x":"independent","y":"independent"}}},
{"width":761,"height":160,
 "layer":[
  {"data":{"name":"cocco"},"mark":{"type":"line","stroke":"#0000ff","clip":true,"strokeJoin":"round","strokeCap":"round"},
   "encoding":{
    "x":{"field":"m","type":"quantitative","scale":{"domain":[0.55,12.45],"nice":false,"zero":false},"axis":{"orient":"bottom","values":[1,2,3,4,5,6,7,8,9,10,11,12],"tickSize":-6,"labelPadding":18,"title":null}},
    "y":{"field":"v","type":"quantitative","scale":{"domain":[0,15],"nice":false},"axis":{"orient":"left","values":[0,5,10,15],"tickSize":-5,"labelPadding":11,"title":"biomass (mgC/m³)","titleFontSize":34,"titlePadding":16}},
    "detail":{"field":"s","type":"nominal"},
    "strokeWidth":{"field":"s","type":"nominal","scale":{"type":"ordinal","domain":["b1","b2"],"range":[1.4,4]},"legend":null}}},
  {"data":{"values":[{"m":9.4,"v":10.5,"t":"(b) cocco"}]},"mark":{"type":"text","align":"left","baseline":"alphabetic","font":"Lato","fontSize":36,"color":"#000000"},
   "encoding":{
    "x":{"field":"m","type":"quantitative","axis":{"orient":"top","values":[1,2,3,4,5,6,7,8,9,10,11,12],"labels":false,"tickSize":-6,"title":null}},
    "y":{"field":"v","type":"quantitative","axis":{"orient":"right","values":[5,10],"labels":false,"tickSize":-6,"title":null}},
    "text":{"field":"t"}}}
 ],
 "resolve":{"axis":{"x":"independent","y":"independent"}}},
{"width":761,"height":160,
 "layer":[
  {"data":{"name":"diatom"},"mark":{"type":"line","stroke":"#ff0000","clip":true,"strokeJoin":"round","strokeCap":"round"},
   "encoding":{
    "x":{"field":"m","type":"quantitative","scale":{"domain":[0.55,12.45],"nice":false,"zero":false},"axis":{"orient":"bottom","values":[1,2,3,4,5,6,7,8,9,10,11,12],"tickSize":-6,"labelPadding":18,"title":null}},
    "y":{"field":"v","type":"quantitative","scale":{"domain":[0,15],"nice":false},"axis":{"orient":"left","values":[0,5,10,15],"tickSize":-5,"labelPadding":11,"title":null}},
    "detail":{"field":"s","type":"nominal"},
    "strokeWidth":{"field":"s","type":"nominal","scale":{"type":"ordinal","domain":["c1","c2","c3","c4"],"range":[1.5,3.5,5,5]},"legend":null}}},
  {"data":{"values":[{"m":9.54,"v":10.0,"t":"(c) diatom"}]},"mark":{"type":"text","align":"left","baseline":"alphabetic","font":"Lato","fontSize":36,"color":"#000000"},
   "encoding":{
    "x":{"field":"m","type":"quantitative","axis":{"orient":"top","values":[1,2,3,4,5,6,7,8,9,10,11,12],"labels":false,"tickSize":-6,"title":null}},
    "y":{"field":"v","type":"quantitative","axis":{"orient":"right","values":[5,10],"labels":false,"tickSize":-6,"title":null}},
    "text":{"field":"t"}}}
 ],
 "resolve":{"axis":{"x":"independent","y":"independent"}}},
{"width":761,"height":160,
 "layer":[
  {"data":{"name":"mixo"},"mark":{"type":"line","stroke":"#ff00ff","clip":true,"strokeJoin":"round","strokeCap":"round"},
   "encoding":{
    "x":{"field":"m","type":"quantitative","scale":{"domain":[0.55,12.45],"nice":false,"zero":false},"axis":{"orient":"bottom","values":[1,2,3,4,5,6,7,8,9,10,11,12],"tickSize":-6,"labelPadding":18,"title":null}},
    "y":{"field":"v","type":"quantitative","scale":{"domain":[0,15],"nice":false},"axis":{"orient":"left","values":[0,5,10,15],"tickSize":-5,"labelPadding":11,"title":"biomass (mgC/m³)","titleFontSize":34,"titlePadding":16}},
    "detail":{"field":"s","type":"nominal"},
    "strokeWidth":{"field":"s","type":"nominal","scale":{"type":"ordinal","domain":["d1","d2","d3","d4","d5"],"range":[1.3,4.5,3.5,4.5,4]},"legend":null}}},
  {"data":{"values":[{"m":9.61,"v":10.4,"t":"(d) mixo"}]},"mark":{"type":"text","align":"left","baseline":"alphabetic","font":"Lato","fontSize":36,"color":"#000000"},
   "encoding":{
    "x":{"field":"m","type":"quantitative","axis":{"orient":"top","values":[1,2,3,4,5,6,7,8,9,10,11,12],"labels":false,"tickSize":-6,"title":null}},
    "y":{"field":"v","type":"quantitative","axis":{"orient":"right","values":[5,10],"labels":false,"tickSize":-6,"title":null}},
    "text":{"field":"t"}}}
 ],
 "resolve":{"axis":{"x":"independent","y":"independent"}}},
{"width":761,"height":160,
 "layer":[
  {"data":{"name":"zoo"},"mark":{"type":"line","stroke":"#000000","clip":true,"strokeJoin":"round","strokeCap":"round"},
   "encoding":{
    "x":{"field":"m","type":"quantitative","scale":{"domain":[0.55,12.45],"nice":false,"zero":false},"axis":{"orient":"bottom","values":[1,2,3,4,5,6,7,8,9,10,11,12],"tickSize":-6,"labelPadding":18,"title":"month","titleFontSize":30,"titlePadding":3}},
    "y":{"field":"v","type":"quantitative","scale":{"domain":[0,15],"nice":false},"axis":{"orient":"left","values":[0,5,10,15],"tickSize":-5,"labelPadding":11,"title":null}},
    "detail":{"field":"s","type":"nominal"},
    "strokeWidth":{"field":"s","type":"nominal","scale":{"type":"ordinal","domain":["e1","e2","e3","e4","e5","e6"],"range":[1.3,6.5,5,6.5,5,3.5]},"legend":null}}},
  {"data":{"values":[{"m":9.58,"v":10.5,"t":"(e) zoo"}]},"mark":{"type":"text","align":"left","baseline":"alphabetic","font":"Lato","fontSize":36,"color":"#000000"},
   "encoding":{
    "x":{"field":"m","type":"quantitative","axis":{"orient":"top","values":[1,2,3,4,5,6,7,8,9,10,11,12],"labels":false,"tickSize":-6,"title":null}},
    "y":{"field":"v","type":"quantitative","axis":{"orient":"right","values":[5,10],"labels":false,"tickSize":-6,"title":null}},
    "text":{"field":"t"}}}
 ],
 "resolve":{"axis":{"x":"independent","y":"independent"}}}
]
}
